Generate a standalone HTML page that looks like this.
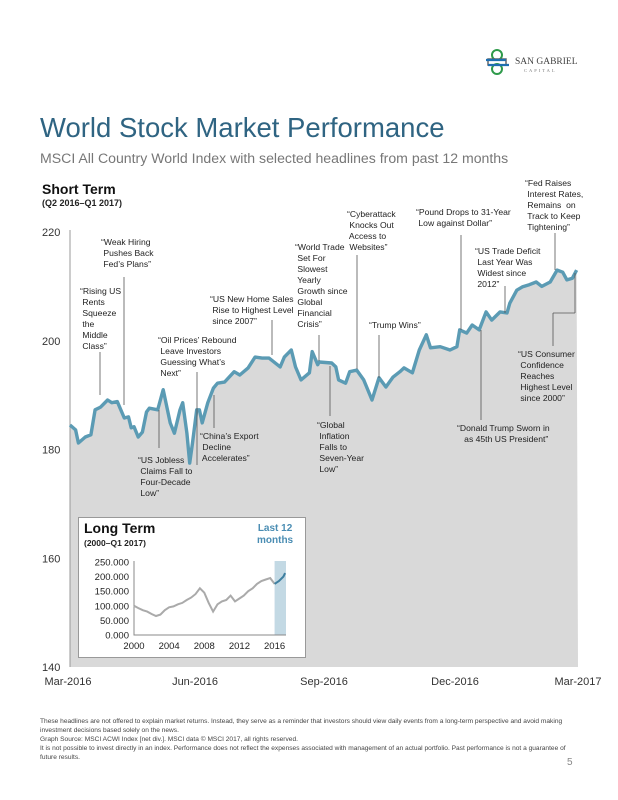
<!DOCTYPE html>
<html><head><meta charset="utf-8"><style>
html,body{margin:0;padding:0;background:#fff;}
body{width:618px;height:800px;position:relative;overflow:hidden;font-family:"Liberation Sans",sans-serif;}
.ann{position:absolute;font-size:8.6px;line-height:11px;color:#222;white-space:pre;}
.abs{position:absolute;}
</style></head><body>
<div class="abs" style="left:484px;top:46px;width:100px;height:32px;">
<svg width="100" height="32">
<circle cx="13" cy="9" r="5" fill="none" stroke="#2e9a4a" stroke-width="2"/>
<circle cx="13" cy="23" r="5" fill="none" stroke="#2e9a4a" stroke-width="2"/>
<rect x="4" y="13" width="18" height="6" fill="none" stroke="#666" stroke-width="1.5"/>
<path d="M2 14 H22 M4 19 H25" stroke="#1f6fb0" stroke-width="2.2"/>
<text x="31" y="18" font-family="Liberation Serif,serif" font-size="9.5" fill="#444">SAN GABRIEL</text>
<text x="40" y="26" font-family="Liberation Serif,serif" font-size="4.5" fill="#777" letter-spacing="2">CAPITAL</text>
</svg></div>
<div class="abs" style="left:40px;top:112px;font-size:27.5px;color:#2f6482;">World Stock Market Performance</div>
<div class="abs" style="left:40px;top:150px;font-size:14.1px;color:#777;">MSCI All Country World Index with  selected headlines from past 12 months</div>
<div class="abs" style="left:42px;top:181px;font-size:14px;font-weight:bold;color:#111;">Short Term</div>
<div class="abs" style="left:42px;top:198px;font-size:9px;font-weight:bold;color:#222;">(Q2 2016–Q1 2017)</div>

<svg id="chart" class="abs" style="left:0;top:0" width="618" height="800"></svg>

<div class="abs" style="left:78px;top:517px;width:226px;height:139px;border:1.5px solid #999;background:#fff;">
<div class="abs" style="left:5px;top:2px;font-size:14px;font-weight:bold;color:#111;">Long Term</div>
<div class="abs" style="left:5px;top:20px;font-size:8.5px;font-weight:bold;color:#222;">(2000–Q1 2017)</div>
<div class="abs" style="left:178px;top:5px;font-size:10px;font-weight:bold;color:#4a8db3;text-align:center;line-height:12px;">Last 12<br>months</div>
<svg id="inset" class="abs" style="left:0;top:0" width="226" height="139"></svg>
</div>

<div class="ann" style="left:80px;top:286px">“Rising US
 Rents
 Squeeze
 the
 Middle
 Class”</div>
<div class="ann" style="left:101px;top:237px">“Weak Hiring
 Pushes Back
 Fed’s Plans”</div>
<div class="ann" style="left:138px;top:455px">“US Jobless
 Claims Fall to
 Four-Decade
 Low”</div>
<div class="ann" style="left:158px;top:335px">“Oil Prices’ Rebound
 Leave Investors
 Guessing What’s
 Next”</div>
<div class="ann" style="left:200px;top:431px">“China’s Export
 Decline
 Accelerates”</div>
<div class="ann" style="left:210px;top:294px">“US New Home Sales
 Rise to Highest Level
 since 2007”</div>
<div class="ann" style="left:295px;top:242px">“World Trade
 Set For
 Slowest
 Yearly
 Growth since
 Global
 Financial
 Crisis”</div>
<div class="ann" style="left:317px;top:420px">“Global
 Inflation
 Falls to
 Seven-Year
 Low”</div>
<div class="ann" style="left:347px;top:209px">“Cyberattack
 Knocks Out
 Access to
 Websites”</div>
<div class="ann" style="left:369px;top:320px">“Trump Wins”</div>
<div class="ann" style="left:416px;top:207px">“Pound Drops to 31-Year
 Low against Dollar”</div>
<div class="ann" style="left:475px;top:246px">“US Trade Deficit
 Last Year Was
 Widest since
 2012”</div>
<div class="ann" style="left:525px;top:178px">“Fed Raises
 Interest Rates,
 Remains  on
 Track to Keep
 Tightening”</div>
<div class="ann" style="left:518px;top:349px">“US Consumer
 Confidence
 Reaches
 Highest Level
 since 2000”</div>
<div class="ann" style="left:457px;top:423px">“Donald Trump Sworn in
   as 45th US President”</div>

<div class="abs" style="left:40px;top:717px;width:530px;font-size:6.6px;line-height:9px;color:#444;">These headlines are not offered to explain market returns. Instead, they serve as a reminder that investors should view daily events from a long-term perspective and avoid making investment decisions based solely on the news.<br>Graph Source: MSCI ACWI Index [net div.]. MSCI data © MSCI 2017,  all rights reserved.<br>It is not possible to invest directly in an index. Performance does not reflect the expenses associated with management of an actual portfolio. Past performance is not a guarantee of future results.</div>
<div class="abs" style="left:567px;top:757px;font-size:10px;color:#888;">5</div>

<script>
// Short term data: day offset from start of Mar-2016 and index level
const stDays=[0,4,6,11,15,18,22,27,30,34,36,39,42,44,46,49,52,55,57,63,67,72,75,79,81,84,86,88,91,93,95,99,103,106,111,118,122,128,133,138,143,151,154,159,162,166,172,174,178,179,188,191,193,198,201,206,211,217,222,227,232,237,240,246,251,256,259,266,273,278,280,285,289,294,299,303,309,314,316,321,325,330,335,339,345,350,354,357,361,364];
const stValues=[184.5,183.6,181.2,182.3,182.7,187.3,187.8,189.1,188.6,188.8,187.6,185.8,186,184,184.2,182.3,183.2,186.9,187.6,187.3,191,184.9,183,187.3,188.6,183,177.5,181.2,187.3,187.3,184.9,188.6,191.3,192.2,192.4,194.3,193.7,195,197,196.8,196.8,195.2,197,198.3,195.2,192.8,194.1,198,195.6,196.1,195.9,195.2,192.8,192.2,194.3,194.6,192.8,189.1,193.2,191.5,193.3,194.3,195,194.1,198.3,201.1,198.7,198.9,198.3,198.9,202,201.4,202.9,202,205.3,203.8,205.3,205.1,206.9,209.3,209.9,210.3,210.8,210,210.8,213,212.6,211.2,211.5,213];
const stTicks=[140,160,180,200,220];
const stXLabels=["Mar-2016","Jun-2016","Sep-2016","Dec-2016","Mar-2017"];
// Long term data (half-yearly 2000..2017)
const ltYears=[2000,2000.5,2001,2001.5,2002,2002.5,2003,2003.5,2004,2004.5,2005,2005.5,2006,2006.5,2007,2007.5,2008,2008.5,2009,2009.5,2010,2010.5,2011,2011.5,2012,2012.5,2013,2013.5,2014,2014.5,2015,2015.5,2016,2016.5,2017,2017.2];
const ltValues=[100,92,85,80,72,65,70,85,95,98,105,110,120,128,140,160,145,110,80,105,115,120,135,115,125,135,150,160,175,185,190,195,175,185,200,212];
const ltTicks=[0,50,100,150,200,250];
const ltTickLabels=["0.000","50.000","100.000","150.000","200.000","250.000"];
const ltXLabels=[2000,2004,2008,2012,2016];

const NS="http://www.w3.org/2000/svg";
function mk(p,t,a){const e=document.createElementNS(NS,t);for(const k in a)e.setAttribute(k,a[k]);p.appendChild(e);return e;}

const svg=document.getElementById('chart');
const X0=70,X1=578,Y0=667,Y1=232;
const xs=d=>X0+(X1-X0)*d/365;
const ys=v=>Y0-(v-140)/(220-140)*(Y0-Y1);
let pts=stValues.map((v,i)=>xs(stDays[i]).toFixed(1)+","+ys(v).toFixed(1));
const area=mk(svg,'polygon',{points:X0+","+Y0+" "+pts.join(" ")+" "+X1+","+Y0,fill:"#d9d9d9"});


const ax=mk(svg,'line',{x1:X0,y1:Y1-2,x2:X0,y2:Y0,stroke:"#999","stroke-width":1});


const line=mk(svg,'polyline',{points:pts.join(" "),fill:"none",stroke:"#5b9bb4","stroke-width":3.4,"stroke-linejoin":"round"});


stTicks.forEach(t=>{const tx=mk(svg,'text',{x:42,y:ys(t)+4,"font-size":11,fill:"#333","font-family":"Liberation Sans,sans-serif"});tx.textContent=t;

});
stXLabels.forEach((l,i)=>{const x=[68,195,324,455,578][i];const tx=mk(svg,'text',{x:x,y:685,"font-size":11,fill:"#333","text-anchor":"middle","font-family":"Liberation Sans,sans-serif"});tx.textContent=l;

});
const leaders=[[100,352,100,395],[124,277,124,405],[159,410,159,448],[197,372,197,465],[214,395,214,428],[272,320,272,355],[319,335,319,361],[330,366,330,416],[357,255,357,369],[379,335,379,378],[461,235,461,330],[505,286,505,313],[555,233,555,270],[575,273,575,313],[575,313,553,313],[553,313,553,346],[481,330,481,420]];
leaders.forEach(l=>{const e=mk(svg,'line',{x1:l[0],y1:l[1],x2:l[2],y2:l[3],stroke:"#555","stroke-width":0.8});

});

const ins=document.getElementById('inset');
const IX0=55,IX1=207,IY0=117,IY1=44;
const ix=y=>IX0+(y-2000)/(2017.3-2000)*(IX1-IX0);
const iy=v=>IY0-v/250*(IY0-IY1);
const band=mk(ins,'rect',{x:ix(2016),y:IY1-1,width:ix(2017.3)-ix(2016),height:IY0-IY1+1,fill:"#c3d9e4"});


const ia=mk(ins,'polyline',{points:IX0+","+(IY1-1)+" "+IX0+","+IY0+" "+IX1+","+IY0,fill:"none",stroke:"#888","stroke-width":1});


const grey=[],blue=[];
ltYears.forEach((y,i)=>{const p=ix(y).toFixed(1)+","+iy(ltValues[i]).toFixed(1);if(y<=2016)grey.push(p);if(y>=2016)blue.push(p);});
const gl=mk(ins,'polyline',{points:grey.join(" "),fill:"none",stroke:"#aaa","stroke-width":2});


const bl=mk(ins,'polyline',{points:blue.join(" "),fill:"none",stroke:"#3e7fa0","stroke-width":2});


ltTicks.forEach((t,i)=>{const tx=mk(ins,'text',{x:50,y:iy(t)+3.5,"font-size":9.5,fill:"#222","text-anchor":"end","font-family":"Liberation Sans,sans-serif"});tx.textContent=ltTickLabels[i];

});
ltXLabels.forEach(y=>{const tx=mk(ins,'text',{x:ix(y),y:131,"font-size":9.5,fill:"#222","text-anchor":"middle","font-family":"Liberation Sans,sans-serif"});tx.textContent=y;

});
</script>
</body></html>
